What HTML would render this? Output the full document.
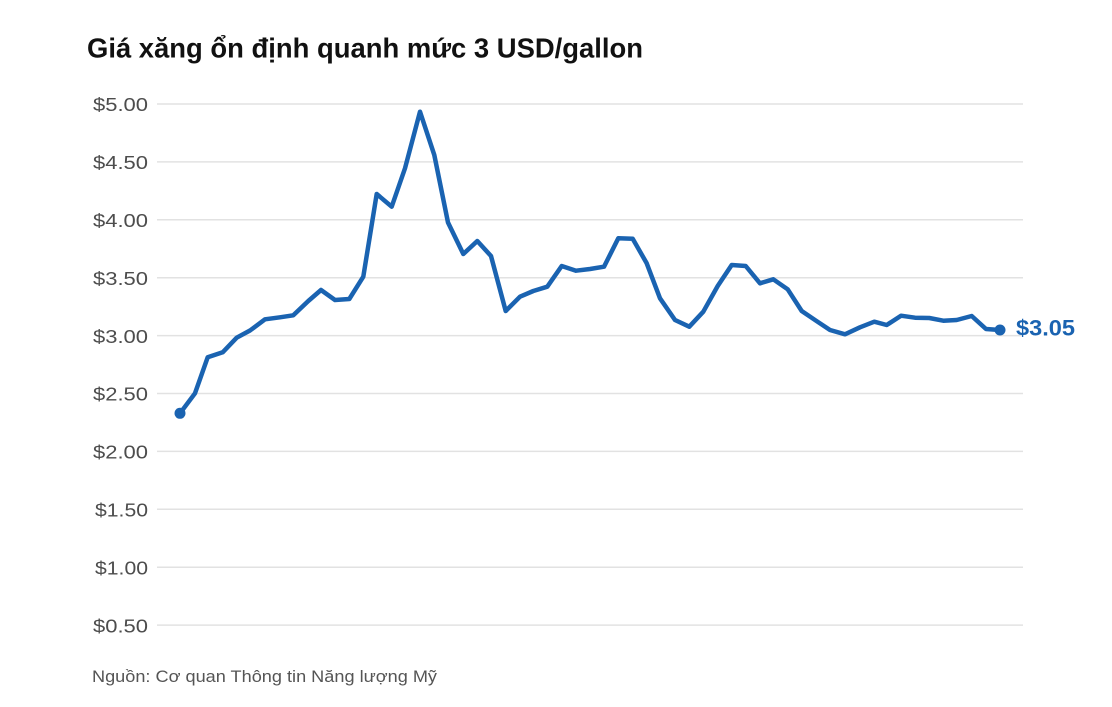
<!DOCTYPE html>
<html><head><meta charset="utf-8"><style>
html,body{margin:0;padding:0;background:#fff;}
svg{display:block;}
</style></head><body>
<svg width="1112" height="707" viewBox="0 0 1112 707" xmlns="http://www.w3.org/2000/svg">
<rect width="1112" height="707" fill="#fff"/>
<text x="87" y="57.5" font-family="Liberation Sans, Arial, sans-serif" font-weight="bold" font-size="28" fill="#111" textLength="556" lengthAdjust="spacingAndGlyphs">Giá xăng ổn định quanh mức 3 USD/gallon</text>
<g stroke="#e2e2e2" stroke-width="1.5">
<line x1="157" x2="1023" y1="104" y2="104"/>
<line x1="157" x2="1023" y1="161.9" y2="161.9"/>
<line x1="157" x2="1023" y1="219.8" y2="219.8"/>
<line x1="157" x2="1023" y1="277.7" y2="277.7"/>
<line x1="157" x2="1023" y1="335.6" y2="335.6"/>
<line x1="157" x2="1023" y1="393.5" y2="393.5"/>
<line x1="157" x2="1023" y1="451.4" y2="451.4"/>
<line x1="157" x2="1023" y1="509.3" y2="509.3"/>
<line x1="157" x2="1023" y1="567.2" y2="567.2"/>
<line x1="157" x2="1023" y1="625.1" y2="625.1"/>
</g>
<g font-family="Liberation Sans, Arial, sans-serif" font-size="18.5" fill="#4d4d4d" text-anchor="end">
<text x="148" y="111.2" textLength="55" lengthAdjust="spacingAndGlyphs">$5.00</text>
<text x="148" y="169.1" textLength="55" lengthAdjust="spacingAndGlyphs">$4.50</text>
<text x="148" y="227" textLength="55" lengthAdjust="spacingAndGlyphs">$4.00</text>
<text x="148" y="284.9" textLength="55" lengthAdjust="spacingAndGlyphs">$3.50</text>
<text x="148" y="342.8" textLength="55" lengthAdjust="spacingAndGlyphs">$3.00</text>
<text x="148" y="400.7" textLength="55" lengthAdjust="spacingAndGlyphs">$2.50</text>
<text x="148" y="458.6" textLength="55" lengthAdjust="spacingAndGlyphs">$2.00</text>
<text x="148" y="516.5" textLength="53" lengthAdjust="spacingAndGlyphs">$1.50</text>
<text x="148" y="574.4" textLength="53" lengthAdjust="spacingAndGlyphs">$1.00</text>
<text x="148" y="632.3" textLength="55" lengthAdjust="spacingAndGlyphs">$0.50</text>
</g>
<polyline fill="none" stroke="#1a63b1" stroke-width="4.5" stroke-linejoin="round" stroke-linecap="round" points="
180,413.3 195,393.3 207.7,357.3 222.7,352.3 236.7,337.7 250,330.5 265,319.3 280,317.3 293.3,315.3 308.3,301 321,290 335,300 349.3,299 363.3,276.7 376.7,194 391.7,206.7 405,168.3 420,111.7 434.3,155 448,222.5 463.3,254 477.3,241 491,256 505.7,311 520,296.7 533.3,291 547.3,286.7 561.7,266 576,270.7 590,269 604,266.7 618.3,238.3 632.7,238.7 646.7,263.3 660,298.3 675,320 689.3,326.7 703.3,311.7 717.7,286 731.7,265 745.7,266 760,283.3 773.3,279.3 787.7,289.3 801.7,311 816,320.7 830,330 845,334.3 860,327.3 874.3,321.7 886.7,325 901,315.7 915,317.7 929.3,318 943.3,320.7 956.7,320 971.7,316 986,329 1000,330"/>
<circle cx="180" cy="413.3" r="5.5" fill="#1a63b1"/>
<circle cx="1000" cy="330" r="5.5" fill="#1a63b1"/>
<text x="1016" y="335.5" font-family="Liberation Sans, Arial, sans-serif" font-weight="bold" font-size="22" fill="#1a63b1" textLength="59" lengthAdjust="spacingAndGlyphs">$3.05</text>
<text x="92" y="682" font-family="Liberation Sans, Arial, sans-serif" font-size="17" fill="#555" textLength="345" lengthAdjust="spacingAndGlyphs">Nguồn: Cơ quan Thông tin Năng lượng Mỹ</text>
</svg>
</body></html>
